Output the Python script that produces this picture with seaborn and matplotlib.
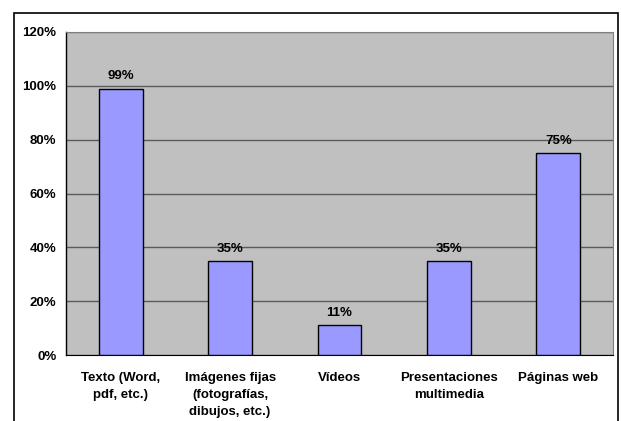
import numpy as np
import pandas as pd
import seaborn as sns
import matplotlib.pyplot as plt
from matplotlib.patches import Rectangle
from matplotlib.ticker import FuncFormatter

# Data
categorias = ['Texto (Word,\npdf, etc.)', 'Imágenes fijas\n(fotografías,\ndibujos, etc.)',
              'Vídeos', 'Presentaciones\nmultimedia', 'Páginas web']
porcentajes = [99, 35, 11, 35, 75]
etiquetas = ['99%', '35%', '11%', '35%', '75%']

df = pd.DataFrame({'categoria': categorias, 'valor': porcentajes})

sns.set_style('white')
plt.rcParams['font.family'] = ['Liberation Sans', 'DejaVu Sans']
plt.rcParams['font.weight'] = 'bold'
plt.rcParams['text.color'] = 'black'
plt.rcParams['xtick.color'] = 'black'
plt.rcParams['ytick.color'] = 'black'

fig = plt.figure(figsize=(6.21, 4.21), dpi=100)
ax = fig.add_axes([66 / 621, 66 / 421, 547 / 621, 323 / 421])

# outer chart border (cut by the bottom of the image)
fig.patches.append(Rectangle((14 / 621, -0.05), 604 / 621, 1.05 - 13 / 421,
                             transform=fig.transFigure, fill=False,
                             edgecolor='black', linewidth=1.2))

ax.set_facecolor('#C0C0C0')
sns.barplot(data=df, x='categoria', y='valor', color='#9999FF', edgecolor='black',
            linewidth=1, width=0.4, saturation=1, ax=ax, zorder=3)

ax.set_ylim(0, 120)
ax.set_xlim(-0.5, 4.5)
ax.set_yticks(range(0, 121, 20))
ax.yaxis.set_major_formatter(FuncFormatter(lambda v, p: f'{int(v)}%'))
ax.yaxis.grid(True, color='#5a5a5a', linewidth=1, zorder=0)
ax.set_axisbelow(True)

fs = 9.5
ax.set_xticks(range(5))
ax.set_xticklabels(categorias, fontsize=fs, fontweight='bold', linespacing=1.55)
ax.set_xticks(np.arange(-0.5, 5, 1), minor=True)
ax.tick_params(axis='x', which='major', length=0, pad=12, labelcolor='black')
ax.tick_params(axis='x', which='minor', length=4, width=1, color='black', direction='out')
ax.tick_params(axis='y', length=4, width=1, color='black', direction='out', labelsize=fs,
               pad=3, labelcolor='black')
for lbl in ax.get_yticklabels():
    lbl.set_fontweight('bold')

for s in ['top', 'right']:
    ax.spines[s].set_color('#808080')
for s in ['left', 'bottom']:
    ax.spines[s].set_color('black')
ax.spines['left'].set_linewidth(1)

for i, (v, t) in enumerate(zip(porcentajes, etiquetas)):
    ax.text(i, v + 2.3, t, ha='center', va='bottom', fontsize=fs, fontweight='bold',
            color='black')

ax.set_xlabel('')
ax.set_ylabel('')

fig.savefig('out.png', dpi=100)
